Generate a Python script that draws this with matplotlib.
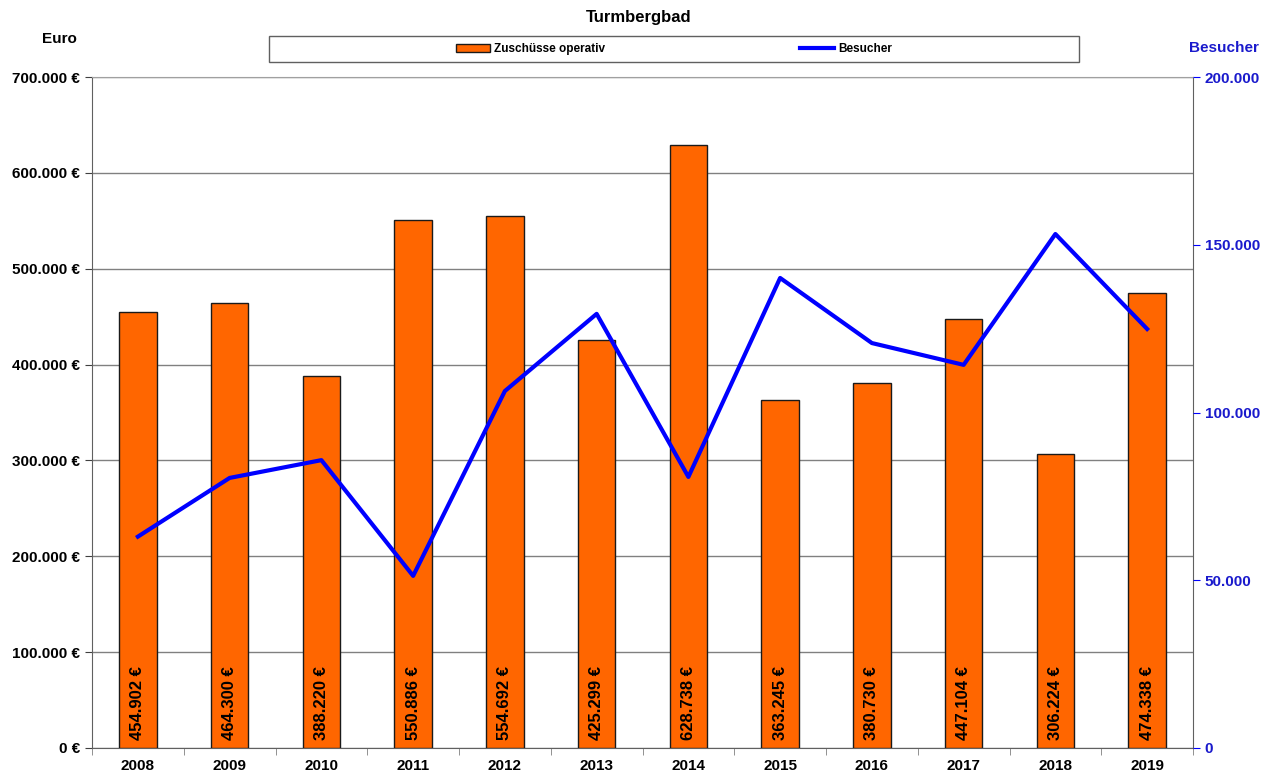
import matplotlib
matplotlib.use("Agg")
import matplotlib.pyplot as plt
import numpy as np
from matplotlib.ticker import FuncFormatter
from matplotlib.patches import Rectangle

plt.rcParams['font.family'] = ['Liberation Sans', 'DejaVu Sans']

years = ["2008", "2009", "2010", "2011", "2012", "2013", "2014", "2015", "2016", "2017", "2018", "2019"]
zuschuesse = [454902, 464300, 388220, 550886, 554692, 425299, 628738, 363245, 380730, 447104, 306224, 474338]
besucher = [63000, 80500, 85800, 51300, 106400, 129400, 80800, 140100, 120700, 114200, 153200, 124900]

def de(v):
    return f"{v:,.0f}".replace(",", ".")

fig = plt.figure(figsize=(12.78, 7.74), dpi=100)
ax = fig.add_axes([0.072, 0.0336, 0.8615, 0.8669])
x = np.arange(len(years))
bars = ax.bar(x, zuschuesse, width=0.41, color="#FF6600", edgecolor="#1a1a1a", linewidth=1.0, zorder=3,
              label="Zuschüsse operativ")
ax.set_xlim(-0.5, len(years) - 0.5)
ax.set_ylim(0, 700000)
ax.set_yticks(np.arange(0, 700001, 100000))
ax.yaxis.set_major_formatter(FuncFormatter(lambda v, p: de(v) + " €"))
ax.grid(axis="y", color="#808080", linewidth=1.0, zorder=0)
ax.set_xticks(x)
ax.set_xticklabels(years, fontweight="bold", fontsize=11)
ax.set_xticks(np.arange(-0.5, len(years), 1), minor=True)
ax.tick_params(axis="x", which="major", length=0, pad=8)
ax.tick_params(axis="x", which="minor", length=5, direction="out", color="#808080")
ax.tick_params(axis="y", length=5, direction="out", color="#404040", labelsize=11)
for lab in ax.get_yticklabels():
    lab.set_fontweight("bold")
ax.spines["top"].set_color("#a0a0a0")
ax.spines["left"].set_color("#606060")
ax.spines["bottom"].set_color("#606060")
ax.spines["right"].set_color("#606060")

for xi, v in zip(x, zuschuesse):
    ax.text(xi, 8000, de(v) + " €", rotation=90, ha="center", va="bottom",
            fontsize=12, fontweight="bold", color="black", zorder=4)

ax2 = ax.twinx()
ax2.plot(x, besucher, color="#0000FF", linewidth=3, zorder=5, label="Besucher")
ax2.set_ylim(0, 200000)
ax2.set_yticks(np.arange(0, 200001, 50000))
ax2.yaxis.set_major_formatter(FuncFormatter(lambda v, p: de(v)))
ax2.tick_params(axis="y", length=5, direction="out", color="#0000FF", labelcolor="#1a1acc", labelsize=11)
for lab in ax2.get_yticklabels():
    lab.set_fontweight("bold")
for s in ax2.spines.values():
    s.set_visible(False)

fig.text(0.5, 0.978, "Turmbergbad", ha="center", va="center", fontsize=12, fontweight="bold")
fig.text(0.033, 0.950, "Euro", ha="left", va="center", fontsize=11, fontweight="bold")
fig.text(0.958, 0.938, "Besucher", ha="center", va="center", fontsize=11, fontweight="bold", color="#1a1acc")

# legend box
fig.patches.append(Rectangle((269 / 1278, 1 - 62 / 774), (1079 - 269) / 1278, 26 / 774,
                             transform=fig.transFigure, fill=False, edgecolor="#606060", linewidth=1.0))

h1, l1 = ax.get_legend_handles_labels()
h2, l2 = ax2.get_legend_handles_labels()
leg = fig.legend(h1 + h2, l1 + l2, loc="center", bbox_to_anchor=(674 / 1278, 1 - 49 / 774), ncol=2,
                 frameon=False, columnspacing=16.5, handlelength=2.9, handleheight=0.6,
                 handletextpad=0.35, borderpad=0.2,
                 prop={"weight": "bold", "size": 8.5})

fig.savefig("out.png", dpi=100)
